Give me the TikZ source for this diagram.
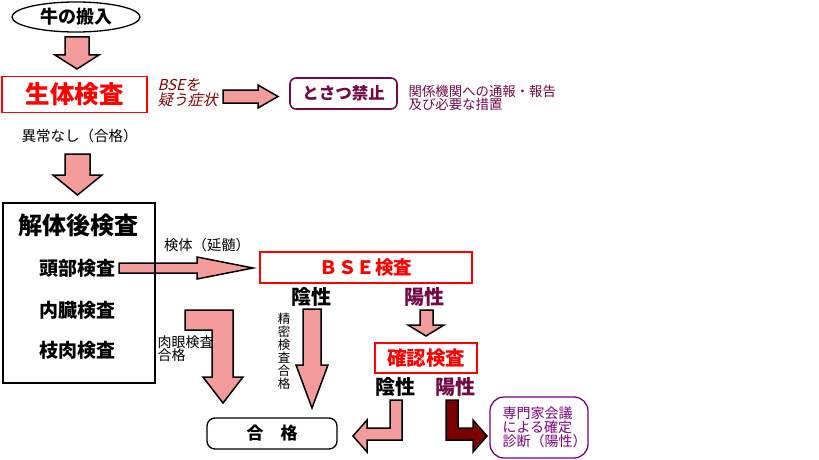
\documentclass[tikz,border=0pt]{standalone}
\usepackage{fontspec}
\setmainfont{Noto Sans CJK JP}
\newfontfamily\jpslant{Noto Sans CJK JP}[FakeSlant=0.25]
\usepackage{tikz}
\usetikzlibrary{shapes.geometric}
\definecolor{rosa}{RGB}{244,156,156}
\definecolor{rojo}{RGB}{255,0,0}
\definecolor{granate}{RGB}{125,0,0}
\definecolor{morado}{RGB}{115,10,70}
\definecolor{violeta}{RGB}{125,0,125}
\newcommand{\fs}[1]{\fontsize{#1}{#1}\selectfont}
\newcommand{\fsl}[2]{\fontsize{#1}{#2}\selectfont}

\tikzset{
  flecha/.style={draw=black, fill=rosa, line width=1.5pt, line join=miter},
  cajaroja/.style={draw=rojo, line width=1.6pt, inner sep=0pt, text=rojo, font=\bfseries},
  etiqueta/.style={inner sep=0pt, align=left},
}

\begin{document}
\begin{tikzpicture}[x=1pt, y=-1pt, line width=1.2pt]
    \useasboundingbox (0,0) rectangle (819,460);
    % flechas de bloque
    \filldraw[flecha] (65,37)--(89,37)--(89,55)--(99,55)--(77,69)--(55,55)--(65,55)--cycle;
    \filldraw[flecha] (65,154)--(90,154)--(90,175)--(102,175)--(77.5,195)--(53,175)--(65,175)--cycle;
    \filldraw[flecha] (223,90)--(258,90)--(258,85)--(278,96.5)--(258,108)--(258,103)--(223,103)--cycle;
    \filldraw[flecha] (119,263)--(197,263)--(197,257)--(253,268)--(197,279)--(197,273)--(119,273)--cycle;
    \filldraw[flecha] (185,310)--(233,310)--(233,377)--(243,377)--(223,403)--(203,377)--(212,377)--(212,330)--(185,330)--cycle;
    \filldraw[flecha] (303,309)--(321,309)--(321,365)--(328,365)--(312,408)--(296,365)--(303,365)--cycle;
    \filldraw[flecha] (420,310)--(433,310)--(433,325)--(444,325)--(426,336)--(408,325)--(420,325)--cycle;
    \filldraw[flecha] (390,400)--(402,400)--(402,440)--(367,440)--(367,452)--(353,436)--(367,420)--(367,428)--(390,428)--cycle;
    \filldraw[flecha,fill=granate] (446,400)--(458,400)--(458,428)--(473,428)--(473,420)--(487,436)--(473,452)--(473,440)--(446,440)--cycle;

    % cajas
    \node[ellipse, draw, line width=1.3pt, minimum width=128pt, minimum height=30pt, inner sep=0pt, font=\bfseries\fs{18}] (llegada) at (76,17) {牛の搬入};
    \node[cajaroja, minimum width=145pt, minimum height=36pt, font=\bfseries\fs{24.5}] (seitai) at (74.5,94.5) {生体検査};
    \node[draw=morado, line width=1.6pt, rounded corners=6pt, minimum width=107pt, minimum height=31pt, inner sep=0pt, text=morado, font=\bfseries\fs{16.5}] (tosatsu) at (343.5,93.5) {とさつ禁止};
    \node[draw, line width=1.3pt, minimum width=152pt, minimum height=180pt, inner sep=0pt] (kaitai) at (79,293) {};
    \node[cajaroja, minimum width=212pt, minimum height=31pt, font=\bfseries\fs{18.5}] (bse) at (366,267.5) {ＢＳＥ検査};
    \node[cajaroja, minimum width=102pt, minimum height=30pt, font=\bfseries\fs{19.5}] (kakunin) at (426,358) {確認検査};
    \node[draw, line width=1.3pt, rounded corners=8pt, minimum width=130pt, minimum height=31pt, inner sep=0pt, font=\bfseries\fs{17}] (gokaku) at (272,433.5) {合　格};
    \node[draw=violeta, line width=1.3pt, rounded corners=14pt, minimum width=98pt, minimum height=61pt] (senmon) at (539,427.5) {};

    % textos
    \node[etiqueta, anchor=west, text=granate, font=\jpslant\fsl{15}{14.5}] (sospecha) at (157,92.5) {BSEを\\疑う症状};
    \node[etiqueta, anchor=west, text=morado, font=\fsl{13.4}{13}] (medidas) at (408,97.5) {関係機関への通報・報告\\及び必要な措置};
    \node[etiqueta, font=\fs{14.5}] (sinanomalia) at (79.5,136) {異常なし（合格）};
    \node[etiqueta, font=\bfseries\fs{24}] (titulo) at (78,225) {解体後検査};
    \node[etiqueta, font=\bfseries\fs{19}] (cabeza) at (77.5,268) {頭部検査};
    \node[etiqueta, font=\bfseries\fs{19}] (visceras) at (77.5,310) {内臓検査};
    \node[etiqueta, font=\bfseries\fs{19}] (canal) at (77.5,350) {枝肉検査};
    \node[etiqueta, font=\fs{14.3}] (muestra) at (207,245) {検体（延髄）};
    \node[etiqueta, font=\bfseries\fs{20}] (negA) at (311.5,297) {陰性};
    \node[etiqueta, text=morado, font=\bfseries\fs{20}] (posA) at (424,297) {陽性};
    \node[etiqueta, align=center, font=\fsl{12.5}{13}] (preciso) at (284,351) {精\\密\\検\\査\\合\\格};
    \node[etiqueta, anchor=west, font=\fsl{14}{13}] (visual) at (157,348.5) {肉眼検査\\合格};
    \node[etiqueta, font=\bfseries\fs{20}] (negB) at (395,387) {陰性};
    \node[etiqueta, text=morado, font=\bfseries\fs{20}] (posB) at (455,387) {陽性};
    \node[etiqueta, anchor=west, text=violeta, font=\fsl{14}{13}] (diagnostico) at (502,427) {専門家会議\\による確定\\診断（陽性）};
\end{tikzpicture}
\end{document}
